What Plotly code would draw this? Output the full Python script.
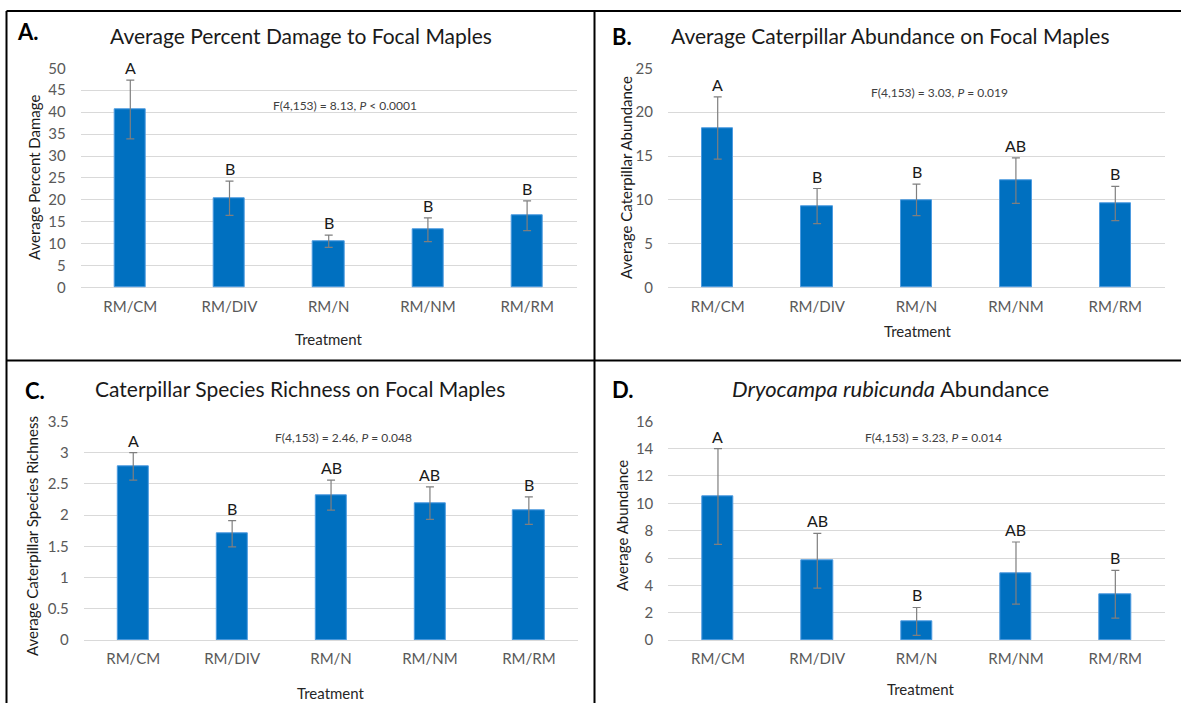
import plotly.graph_objects as go

# Treatments shared by all four panels
categories = ["RM/CM", "RM/DIV", "RM/N", "RM/NM", "RM/RM"]

# A. Average percent damage to focal maples (mean, SE)
damage_mean = [40.6, 20.4, 10.6, 13.2, 16.4]
damage_se = [6.7, 3.9, 1.4, 2.7, 3.4]
damage_letters = ["A", "B", "B", "B", "B"]

# B. Average caterpillar abundance on focal maples
abund_mean = [18.2, 9.3, 10.0, 12.2, 9.6]
abund_se = [3.55, 2.0, 1.8, 2.6, 1.95]
abund_letters = ["A", "B", "B", "AB", "B"]

# C. Caterpillar species richness on focal maples
rich_mean = [2.78, 1.70, 2.32, 2.19, 2.07]
rich_se = [0.22, 0.21, 0.24, 0.26, 0.22]
rich_letters = ["A", "B", "AB", "AB", "B"]

# D. Dryocampa rubicunda abundance
dryo_mean = [10.5, 5.8, 1.36, 4.9, 3.35]
dryo_se = [3.5, 2.0, 1.02, 2.27, 1.75]
dryo_letters = ["A", "AB", "B", "AB", "B"]

W, H = 1181, 711
FONT = "Lato"
BAR = "#0070C0"

# vertical placement: the page shows figure row r at 9.03 + 0.9746 * r
V_OFF, V_SCALE = 9.03, 0.9746


def px(x):
    return x / W


def py(y):
    r = (y - V_OFF) / V_SCALE
    return min(1.0, max(0.0, 1 - r / H))


panels = [
    dict(key="", mean=damage_mean, se=damage_se, letters=damage_letters,
         xdom=(80.7, 576.7), ydom=(67.3, 286.7), yrange=[0, 50], dtick=5,
         title="Average Percent Damage to Focal Maples", title_xy=(300.7, 34.3),
         title_size=21, tag="A.", tag_xy=(15, 31),
         ytitle="Average Percent Damage", ytitle_xy=(34, 177),
         xtitle_xy=(328.6, 338),
         stat="F(4,153) = 8.13, <i>P</i> &lt; 0.0001", stat_xy=(345, 105)),
    dict(key="2", mean=abund_mean, se=abund_se, letters=abund_letters,
         xdom=(668.0, 1165.0), ydom=(67.3, 286.7), yrange=[0, 25], dtick=5,
         title="Average Caterpillar Abundance on Focal Maples", title_xy=(890, 34.3),
         title_size=21, tag="B.", tag_xy=(610, 35.5),
         ytitle="Average Caterpillar Abundance", ytitle_xy=(626, 177),
         xtitle_xy=(918, 330),
         stat="F(4,153) = 3.03, <i>P</i> = 0.019", stat_xy=(939, 91.7)),
    dict(key="3", mean=rich_mean, se=rich_se, letters=rich_letters,
         xdom=(83.8, 578.3), ydom=(420.3, 639.0), yrange=[0, 3.5], dtick=0.5,
         title="Caterpillar Species Richness on Focal Maples", title_xy=(300, 387.3),
         title_size=21, tag="C.", tag_xy=(23, 389),
         ytitle="Average Caterpillar Species Richness", ytitle_xy=(32, 535),
         xtitle_xy=(331, 692),
         stat="F(4,153) = 2.46, <i>P</i> = 0.048", stat_xy=(343.3, 436)),
    dict(key="4", mean=dryo_mean, se=dryo_se, letters=dryo_letters,
         xdom=(668.3, 1165.0), ydom=(420.3, 639.0), yrange=[0, 16], dtick=2,
         title="<i>Dryocampa rubicunda</i> Abundance", title_xy=(890.6, 387.3),
         title_size=22, tag="D.", tag_xy=(610, 388),
         ytitle="Average Abundance", ytitle_xy=(622, 525),
         xtitle_xy=(921, 688),
         stat="F(4,153) = 3.23, <i>P</i> = 0.014", stat_xy=(933.3, 436)),
]

fig = go.Figure()
annotations = []
layout_axes = {}

for p in panels:
    k = p["key"]
    xa, ya = "x" + k, "y" + k
    fig.add_trace(go.Bar(
        x=categories, y=p["mean"], xaxis=xa, yaxis=ya, width=0.315,
        marker=dict(color=BAR, line=dict(color="#4d9be0", width=1)),
        error_y=dict(type="data", array=p["se"], visible=True,
                     color="#7f7f7f", thickness=1.2, width=4),
        showlegend=False, hoverinfo="x+y",
    ))
    layout_axes["xaxis" + k] = dict(
        domain=[px(p["xdom"][0]), px(p["xdom"][1])], anchor=ya,
        type="category", showgrid=False, zeroline=False, showline=False,
        ticks="", tickfont=dict(family=FONT, size=15, color="#595959"),
        ticklabelstandoff=8, fixedrange=True,
    )
    layout_axes["yaxis" + k] = dict(
        domain=[py(p["ydom"][1]), py(p["ydom"][0])], anchor=xa,
        range=p["yrange"], dtick=p["dtick"], tick0=0,
        showgrid=True, gridcolor="#d9d9d9", gridwidth=1,
        zeroline=True, zerolinecolor="#d9d9d9", zerolinewidth=1,
        showline=False, ticks="",
        tickfont=dict(family=FONT, size=15, color="#595959"),
        ticklabelstandoff=14, fixedrange=True,
    )
    # significance letters above each error bar
    for c, m, s, lt in zip(categories, p["mean"], p["se"], p["letters"]):
        annotations.append(dict(
            x=c, y=m + s, xref=xa, yref=ya, text=lt, showarrow=False,
            yanchor="bottom", yshift=1,
            font=dict(family=FONT, size=16, color="#1a1a1a"),
        ))
    # panel title, tag, axis titles and test statistic
    annotations.append(dict(
        x=px(p["title_xy"][0]), y=py(p["title_xy"][1]), xref="paper", yref="paper",
        text=p["title"], showarrow=False, xanchor="center", yanchor="middle",
        font=dict(family=FONT, size=p["title_size"], color="#1a1a1a"),
    ))
    annotations.append(dict(
        x=px(p["tag_xy"][0]), y=py(p["tag_xy"][1]), xref="paper", yref="paper",
        text="<b>" + p["tag"] + "</b>", showarrow=False, xanchor="left", yanchor="middle",
        font=dict(family=FONT, size=22, color="#000000"),
    ))
    annotations.append(dict(
        x=px(p["ytitle_xy"][0]), y=py(p["ytitle_xy"][1]), xref="paper", yref="paper",
        text=p["ytitle"], showarrow=False, textangle=-90,
        xanchor="center", yanchor="middle",
        font=dict(family=FONT, size=15, color="#1a1a1a"),
    ))
    annotations.append(dict(
        x=px(p["xtitle_xy"][0]), y=py(p["xtitle_xy"][1]), xref="paper", yref="paper",
        text="Treatment", showarrow=False, xanchor="center", yanchor="middle",
        font=dict(family=FONT, size=15, color="#262626"),
    ))
    annotations.append(dict(
        x=px(p["stat_xy"][0]), y=py(p["stat_xy"][1]), xref="paper", yref="paper",
        text=p["stat"], showarrow=False, xanchor="center", yanchor="middle",
        font=dict(family=FONT, size=12, color="#404040"),
    ))

# frame lines separating the four panels
shapes = []
for x0, y0, x1, y1 in [
    (6.5, 10.0, W, 10.0),      # top
    (6.5, 10.0, 6.5, H),       # left
    (594.5, 10.0, 594.5, H),   # middle vertical
    (6.5, 359.5, W, 359.5),    # middle horizontal
]:
    shapes.append(dict(type="line", xref="paper", yref="paper",
                       x0=px(x0), y0=py(y0), x1=px(x1), y1=py(y1),
                       line=dict(color="#000000", width=2)))

fig.update_layout(
    width=W, height=H, margin=dict(l=0, r=0, t=0, b=0),
    paper_bgcolor="white", plot_bgcolor="white",
    font=dict(family=FONT),
    annotations=annotations, shapes=shapes, bargap=0,
    **layout_axes,
)

fig.write_html("out.html")
